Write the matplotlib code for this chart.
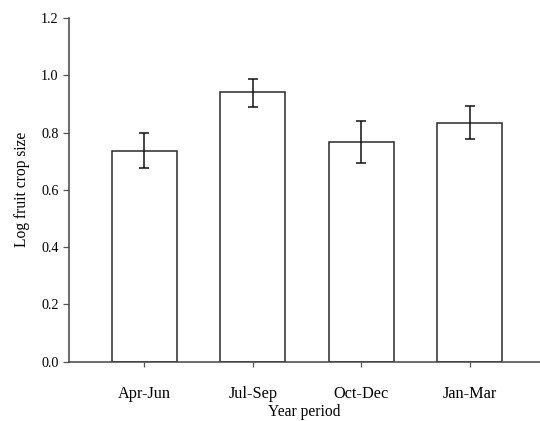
import matplotlib
matplotlib.use("Agg")
import matplotlib.pyplot as plt
import numpy as np

periods = ["Apr-Jun", "Jul-Sep", "Oct-Dec", "Jan-Mar"]
means = [0.736, 0.941, 0.768, 0.834]
err_upper = [0.799, 0.988, 0.841, 0.892]
err_lower = [0.675, 0.890, 0.694, 0.777]
y_ticks = [0.0, 0.2, 0.4, 0.6, 0.8, 1.0, 1.2]

plt.rcParams["font.family"] = ["Liberation Serif", "DejaVu Serif"]

fig = plt.figure(figsize=(5.4, 4.21), dpi=100)
ax = fig.add_axes([69 / 540, 1 - 361.7 / 421, 1 - 69 / 540, (361.7 - 18) / 421])

x = np.arange(len(periods))
means_a = np.array(means)
yerr = np.vstack([means_a - np.array(err_lower), np.array(err_upper) - means_a])

ax.bar(x, means, width=0.6, color="white", edgecolor="#2a2a2a", linewidth=1.1, zorder=2)
ax.errorbar(x, means, yerr=yerr, fmt="none", ecolor="#111111", elinewidth=1.1,
            capsize=3.6, capthick=1.1, zorder=3)

ax.set_xlim(-0.696, 3.647)
ax.set_ylim(0, 1.2)
ax.set_yticks(y_ticks)
ax.set_yticklabels([f"{v:.1f}" for v in y_ticks], fontsize=10.2)
ax.set_xticks(x)
ax.set_xticklabels(periods, fontsize=11.7)

for side in ("top", "right"):
    ax.spines[side].set_visible(False)
for side in ("left", "bottom"):
    ax.spines[side].set_color("#444444")
    ax.spines[side].set_linewidth(1.1)

ax.tick_params(axis="y", direction="out", length=4.5, width=0.9, color="#555555", pad=3)
ax.tick_params(axis="x", direction="out", length=3.5, width=0.9, color="#555555", pad=14)

ax.set_ylabel("Log fruit crop size", fontsize=11.2, labelpad=8)
ax.set_xlabel("Year period", fontsize=11.2, labelpad=1.5)

fig.savefig("out.png", dpi=100)
